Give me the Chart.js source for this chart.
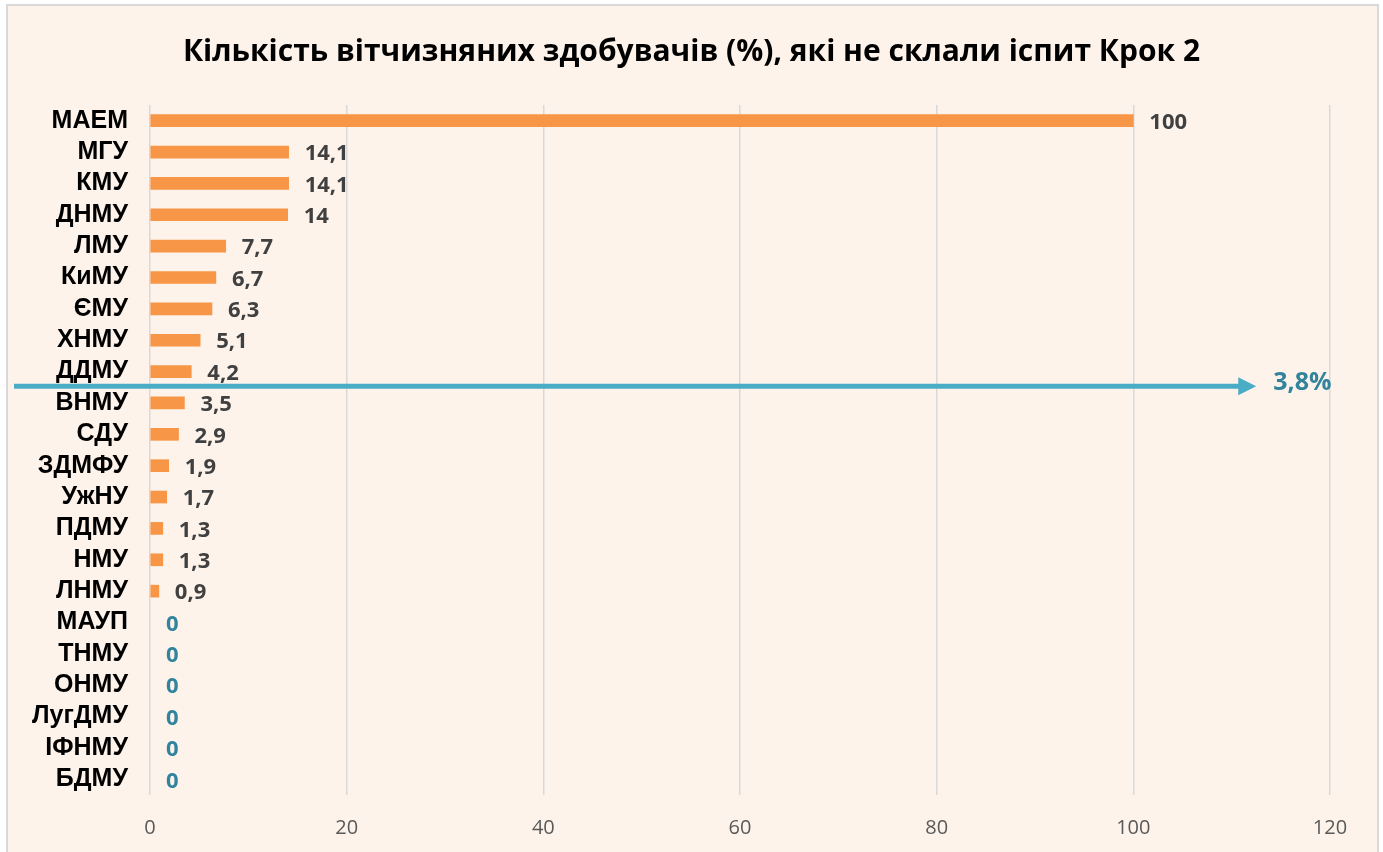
<!DOCTYPE html>
<html lang="uk">
<head>
  <meta charset="UTF-8" />
  <title>Крок 2 — відсоток тих, хто не склав</title>
  <script src="https://cdn.jsdelivr.net/npm/chart.js"></script>
  <style>
    * { margin: 0; padding: 0; box-sizing: border-box; }
    html, body { width: 1383px; height: 852px; background: #fff; overflow: hidden; }
    /* light frame behind the chart, like the slide box */
    #frame {
      position: absolute; left: 6px; top: 4px;
      width: 1373px; height: 900px;
      border: 2px solid #D9D9D9;
      background: #FDF3EB;
    }
    #wrap { position: absolute; left: 0; top: 0; width: 1383px; height: 852px; }
  </style>
</head>
<body>
  <div id="frame"></div>
  <div id="wrap"><canvas id="chart"></canvas></div>

  <script>
    // ---- data ----
    const categories = ['МАЕМ', 'МГУ', 'КМУ', 'ДНМУ', 'ЛМУ', 'КиМУ', 'ЄМУ', 'ХНМУ', 'ДДМУ', 'ВНМУ', 'СДУ',
      'ЗДМФУ', 'УжНУ', 'ПДМУ', 'НМУ', 'ЛНМУ', 'МАУП', 'ТНМУ', 'ОНМУ', 'ЛугДМУ', 'ІФНМУ', 'БДМУ'];
    const values = [100, 14.1, 14.1, 14, 7.7, 6.7, 6.3, 5.1, 4.2, 3.5, 2.9,
      1.9, 1.7, 1.3, 1.3, 0.9, 0, 0, 0, 0, 0, 0];
    const xTicks = [0, 20, 40, 60, 80, 100, 120];
    const titleText = 'Кількість вітчизняних здобувачів (%), які не склали іспит Крок 2';

    // average marker: arrow drawn between two rows
    const avgLabel = '3,8%';
    const avgBetween = [8, 9];   // between ДДМУ and ВНМУ
    const avgArrowEnd = 112.5;   // where the arrow tip sits on the x scale

    const fmt = v => String(v).replace('.', ',');

    // value labels to the right of each bar
    const valueLabels = {
      id: 'valueLabels',
      afterDatasetsDraw(chart) {
        const ctx = chart.ctx;
        const meta = chart.getDatasetMeta(0);
        ctx.save();
        ctx.font = 'bold 22px "Open Sans"';
        ctx.textBaseline = 'middle';
        ctx.textAlign = 'left';
        meta.data.forEach((bar, i) => {
          const v = values[i];
          ctx.fillStyle = v === 0 ? '#31849B' : '#404040';
          ctx.fillText(fmt(v), bar.x + 16, bar.y + 2);
        });
        ctx.restore();
      }
    };

    // teal arrow with the average value
    const avgArrow = {
      id: 'avgArrow',
      afterDatasetsDraw(chart) {
        const ctx = chart.ctx;
        const ys = chart.scales.y, xs = chart.scales.x;
        const y = (ys.getPixelForValue(avgBetween[0]) + ys.getPixelForValue(avgBetween[1])) / 2 - 1;
        const x0 = 14;
        const x1 = xs.getPixelForValue(avgArrowEnd);
        ctx.save();
        ctx.strokeStyle = '#4BACC6';
        ctx.fillStyle = '#4BACC6';
        ctx.lineWidth = 5;
        ctx.beginPath();
        ctx.moveTo(x0, y);
        ctx.lineTo(x1 - 16, y);
        ctx.stroke();
        ctx.beginPath();
        ctx.moveTo(x1, y);
        ctx.lineTo(x1 - 18, y - 9);
        ctx.lineTo(x1 - 18, y + 9);
        ctx.closePath();
        ctx.fill();
        ctx.font = 'bold 25px "Open Sans"';
        ctx.fillStyle = '#31849B';
        ctx.textBaseline = 'middle';
        ctx.fillText(avgLabel, x1 + 17, y - 3);
        ctx.restore();
      }
    };

    new Chart(document.getElementById('chart'), {
      type: 'bar',
      data: {
        labels: categories,
        datasets: [{
          data: values,
          backgroundColor: values.map(v => v === 0 ? 'rgba(0,0,0,0)' : '#F79646'),
          barThickness: 12
        }]
      },
      options: {
        indexAxis: 'y',
        responsive: true,
        maintainAspectRatio: false,
        animation: false,
        layout: { padding: 0 },
        plugins: {
          legend: { display: false },
          tooltip: { enabled: false },
          title: {
            display: true,
            text: titleText,
            color: '#000',
            font: { family: 'Open Sans', size: 30, weight: 'bold' },
            padding: { top: 34, bottom: 35 }
          }
        },
        scales: {
          x: {
            min: 0,
            max: 120,
            afterBuildTicks: axis => { axis.ticks = xTicks.map(v => ({ value: v })); },
            afterFit: axis => { axis.height = 57; },
            grid: { color: '#D9D9D9', lineWidth: 1.5, drawTicks: false },
            border: { display: false },
            ticks: {
              color: '#595959',
              padding: 21,
              font: { family: 'Open Sans', size: 20 }
            }
          },
          y: {
            afterFit: axis => { axis.width = 150; },
            grid: { display: false },
            border: { display: false },
            ticks: {
              color: '#000',
              padding: 14,
              autoSkip: false,
              font: { family: 'Liberation Sans', size: 25, weight: 'bold' }
            }
          },
          // empty strip on the right so the plot ends at 120 with room for labels
          yRight: {
            type: 'category',
            position: 'right',
            afterFit: axis => { axis.width = 53; },
            grid: { display: false },
            border: { display: false },
            ticks: { display: false }
          }
        }
      },
      plugins: [valueLabels, avgArrow]
    });
  </script>
</body>
</html>
